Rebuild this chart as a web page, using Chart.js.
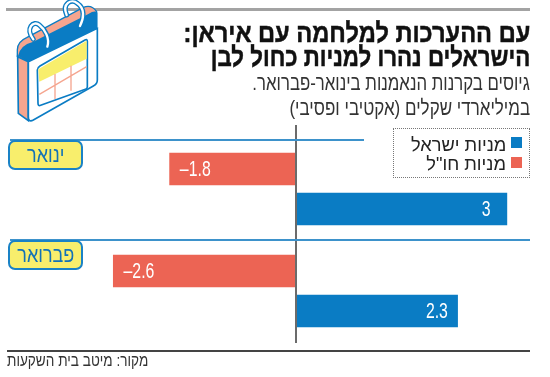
<!DOCTYPE html>
<html lang="he" dir="rtl">
<head>
<meta charset="utf-8">
<script src="https://cdn.jsdelivr.net/npm/chart.js@4"></script>
<style>
  html, body { margin: 0; padding: 0; background: #fff; }
  #page { position: relative; width: 550px; height: 377px; overflow: hidden; font-family: "Liberation Sans", sans-serif; color: #222; }
  #page > * { position: absolute; }
  canvas { left: 0; top: 0; }
  .line { white-space: nowrap; right: 20px; transform-origin: right center; }
  .title { font-weight: bold; font-size: 27px; line-height: 25px; color: #111; -webkit-text-stroke: 0.5px #111; }
  .sub { font-size: 21px; line-height: 24px; color: #333; }
  .pill { left: 8px; width: 71px; height: 26px; background: #f8ee6c; border: 2px solid #1a82c6; border-radius: 7px; text-align: center; font-size: 22px; line-height: 26px; color: #1272b8; }
  .pill span { display: inline-block; transform: scaleX(0.82); }
  .rule { height: 2px; background: #3d92cb; }
  #legend { left: 393px; top: 128px; width: 135px; height: 48px; border: 1px dotted #777; }
  .leg { position: absolute; right: 23px; white-space: nowrap; font-size: 19px; line-height: 22px; color: #222; transform: scaleX(0.96); transform-origin: right center; }
  .swatch { position: absolute; left: 117px; width: 11px; height: 11px; }
  #source { left: 7px; top: 350px; font-size: 17px; line-height: 22px; transform: scaleX(0.8); transform-origin: left center; white-space: nowrap; color: #333; }
</style>
</head>
<body>
<div id="page">
  <canvas id="chart" width="550" height="377" dir="ltr"></canvas>

  <div style="left:6px;top:8px;width:524px;height:3px;background:#a3a3a3"></div>

  <svg style="left:0;top:0" width="275" height="130" viewBox="0 0 825 390">
    <path d="M52 150 Q52 125 80 113 L250 22 Q275 12 290 35 L290 80 L85 185 L52 170 Z" fill="#f5a58f" stroke="#0a7cc4" stroke-width="4"/>
    <path d="M54 168 Q60 135 100 125 L265 42 Q285 30 292 38 L292 88 L85 185 Z" fill="#0a7cc4"/>
    <path d="M53 170 L85 185 L85 362 L55 340 Z" fill="#f5a58f" stroke="#0a7cc4" stroke-width="5"/>
    <path d="M85 185 L292 85 L292 240 Q292 252 280 258 L100 360 Q85 368 85 350 Z" fill="#fff" stroke="#0a7cc4" stroke-width="5"/>
    <path d="M112 210 Q112 203 120 198 L255 120 Q262 116 262 124 L262 260 Q262 266 256 268 L122 316 Q114 319 114 310 Z" fill="#fff" stroke="#0a7cc4" stroke-width="5"/>
    <path d="M115 208 L260 122 L260 176 L118 245 Z" fill="#f8ee6c"/>
    <path d="M118 283 L260 200 M165 222 L165 297 M213 197 L213 272" stroke="#f5a58f" stroke-width="4" fill="none"/>
    <path d="M100 118 C75 85 100 60 118 75 C135 88 150 115 142 140" fill="none" stroke="#0a7cc4" stroke-width="15" stroke-linecap="round"/>
    <path d="M100 118 C75 85 100 60 118 75 C135 88 150 115 142 140" fill="none" stroke="#fff" stroke-width="7" stroke-linecap="round"/>
    <path d="M200 45 C185 10 215 -5 232 10 C255 25 252 55 240 78" fill="none" stroke="#0a7cc4" stroke-width="15" stroke-linecap="round"/>
    <path d="M200 45 C185 10 215 -5 232 10 C255 25 252 55 240 78" fill="none" stroke="#fff" stroke-width="7" stroke-linecap="round"/>
  </svg>

  <div class="line title" style="top:21px;transform:scaleX(0.875)">עם ההערכות למלחמה עם איראן:</div>
  <div class="line title" style="top:45px;transform:scaleX(0.825)">הישראלים נהרו למניות כחול לבן</div>
  <div class="line sub" style="top:71px;transform:scaleX(0.80)">גיוסים בקרנות הנאמנות בינואר-פברואר.</div>
  <div class="line sub" style="top:96px;transform:scaleX(0.81)">במיליארדי שקלים (אקטיבי ופסיבי)</div>

  <div class="rule" style="left:10px;top:139px;width:354px"></div>
  <div class="rule" style="left:10px;top:239px;width:520px"></div>
  <div class="pill" style="top:140px"><span>ינואר</span></div>
  <div class="pill" style="top:240px"><span>פברואר</span></div>

  <div id="legend">
    <div class="swatch" style="top:8px;background:#0a7cc4"></div>
    <div class="swatch" style="top:28px;background:#ec6454"></div>
    <div class="leg" style="top:5px">מניות ישראל</div>
    <div class="leg" style="top:24px">מניות חו"ל</div>
  </div>

  <div style="left:7px;top:350px;width:523px;height:2px;background:#444"></div>
  <div id="source">מקור: מיטב בית השקעות</div>
</div>

<script>
// values in billions of shekels
const months = ["ינואר", "פברואר"];
const foreignStocks = [-1.8, -2.6];
const israelStocks = [3, 2.3];

// grey zero line and the value inside each bar
const barExtras = {
  id: "barExtras",
  afterDatasetsDraw(chart) {
    const ctx = chart.ctx;
    const zero = chart.scales.x.getPixelForValue(0);
    ctx.save();
    ctx.strokeStyle = "#6b6b6b";
    ctx.lineWidth = 2;
    ctx.beginPath();
    ctx.moveTo(zero, 125);
    ctx.lineTo(zero, 343);
    ctx.stroke();

    ctx.fillStyle = "#fff";
    ctx.font = "22px 'Liberation Sans'";
    ctx.textBaseline = "middle";
    ctx.textAlign = "center";
    chart.data.datasets.forEach((ds, i) => {
      chart.getDatasetMeta(i).data.forEach((bar, j) => {
        const v = ds.data[j];
        const inset = v < 0 ? 26 : -21;
        ctx.save();
        ctx.translate(bar.x + inset, bar.y + 1);
        ctx.scale(0.72, 1);
        ctx.fillText(String(v).replace("-", "\u2013"), 0, 0);
        ctx.restore();
      });
    });
    ctx.restore();
  },
};

new Chart(document.getElementById("chart"), {
  type: "bar",
  data: {
    labels: months,
    datasets: [
      { label: 'מניות חו"ל', data: foreignStocks, backgroundColor: "#ec6454", barPercentage: 0.81, categoryPercentage: 0.784 },
      { label: "מניות ישראל", data: israelStocks, backgroundColor: "#0a7cc4", barPercentage: 0.81, categoryPercentage: 0.784 },
    ],
  },
  options: {
    indexAxis: "y",
    responsive: false,
    animation: false,
    layout: { padding: { left: 14.4, right: 7.6, top: 138, bottom: 35 } },
    plugins: { legend: { display: false }, title: { display: false }, tooltip: { enabled: false } },
    scales: {
      x: { min: -4, max: 3.5, display: false },
      y: { display: false },
    },
  },
  plugins: [barExtras],
});
</script>
</body>
</html>
